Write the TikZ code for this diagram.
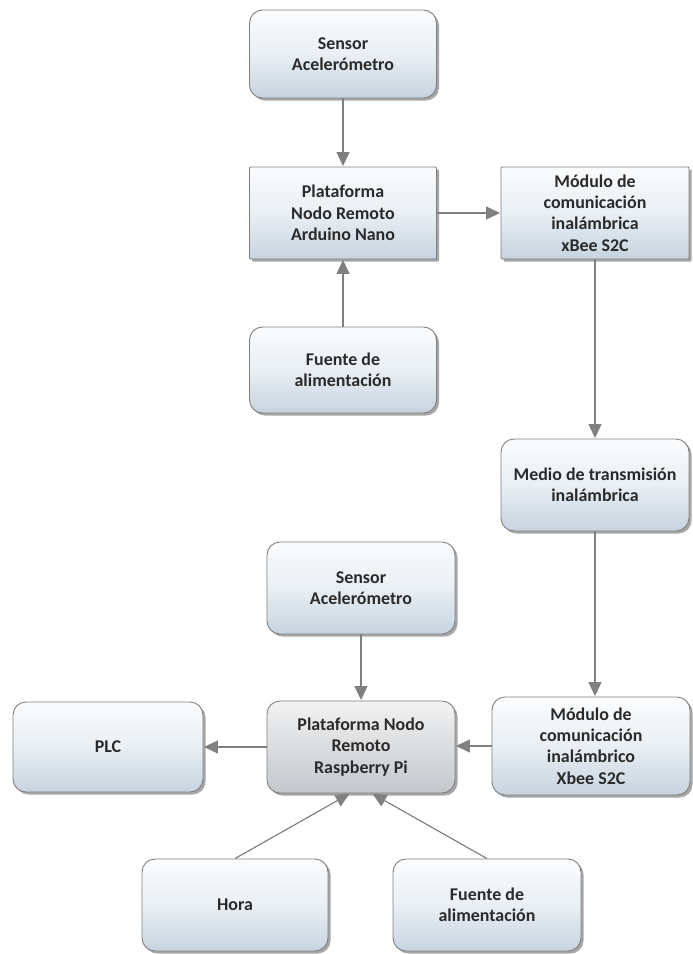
\documentclass[tikz,border=0pt]{standalone}
\usepackage{fontspec}
\setmainfont{Carlito}
\usetikzlibrary{arrows.meta,shadows}
\definecolor{edge}{HTML}{7F7F7F}
\definecolor{txt}{HTML}{2A2A2A}
\definecolor{bluetop}{HTML}{FBFCFD}
\definecolor{bluemid}{HTML}{E9EFF4}
\definecolor{bluebot}{HTML}{C6D3DF}
\definecolor{greytop}{HTML}{F2F2F2}
\definecolor{greybot}{HTML}{C3C7CC}
\definecolor{conn}{HTML}{808080}
\tikzset{
  boxbase/.style={draw=edge, line width=0.9bp, align=center, text=txt,
    font=\fontsize{18}{21.5}\selectfont\bfseries, inner sep=2bp,
    drop shadow={shadow xshift=2.5bp, shadow yshift=-2.5bp, fill=black, opacity=0.35}},
  roundbox/.style={boxbase, rounded corners=13bp, top color=bluetop, bottom color=bluebot, middle color=bluemid},
  squarebox/.style={boxbase, rounded corners=1bp, top color=bluetop, bottom color=bluebot, middle color=bluemid},
  greybox/.style={boxbase, rounded corners=13bp, top color=greytop, bottom color=greybot},
  link/.style={draw=conn, line width=1.2bp, -{Triangle[length=14bp,width=13bp]}, shorten >=0.5bp}
}
\begin{document}
\begin{tikzpicture}[x=1bp,y=-1bp]
\useasboundingbox (0,0) rectangle (693,954);
\node[roundbox, minimum width=187bp, minimum height=88bp] (s1) at (343,54) {Sensor\\Acelerómetro};
\node[squarebox, minimum width=187bp, minimum height=92bp] (ard) at (343,213) {Plataforma\\Nodo Remoto\\Arduino Nano};
\node[squarebox, minimum width=188bp, minimum height=92bp] (mod1) at (595,213) {Módulo de\\comunicación\\inalámbrica\\xBee S2C};
\node[roundbox, minimum width=187bp, minimum height=86bp] (f1) at (343,370) {Fuente de\\alimentación};
\node[roundbox, minimum width=188bp, minimum height=92bp] (medio) at (595,485) {Medio de transmisión\\inalámbrica};
\node[roundbox, minimum width=188bp, minimum height=92bp] (s2) at (361,588) {Sensor\\Acelerómetro};
\node[roundbox, minimum width=190bp, minimum height=90bp] (plc) at (108,747) {PLC};
\node[greybox, minimum width=188bp, minimum height=92bp] (rpi) at (361,747) {Plataforma Nodo\\Remoto\\Raspberry Pi};
\node[roundbox, minimum width=198bp, minimum height=98bp] (mod2) at (591,746) {Módulo de\\comunicación\\inalámbrico\\Xbee S2C};
\node[roundbox, minimum width=186bp, minimum height=92bp] (hora) at (235,905) {Hora};
\node[roundbox, minimum width=188bp, minimum height=92bp] (f2) at (487,905) {Fuente de\\alimentación};
\coordinate (rpiL) at ([xshift=-11bp]rpi.south);
\coordinate (rpiR) at ([xshift=11bp]rpi.south);
\draw[link] (s1) -- (ard);
\draw[link] (ard) -- (mod1);
\draw[link] (f1) -- (ard);
\draw[link] (mod1.south) -- (medio.north -| mod1.south);
\draw[link] (medio.south) -- (mod2.north -| medio.south);
\draw[link] (s2) -- (rpi);
\draw[link] (mod2.west) -- (rpi.east |- mod2.west);
\draw[link] (rpi) -- (plc);
\draw[link] (hora.north) -- (rpiL);
\draw[link] (f2.north) -- (rpiR);
\end{tikzpicture}
\end{document}
